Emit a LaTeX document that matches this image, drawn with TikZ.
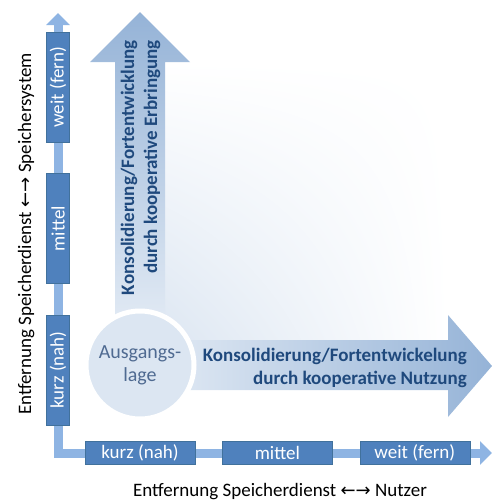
\documentclass[tikz,border=0pt]{standalone}
\usepackage{fontspec}
\usepackage{graphicx}
\setmainfont{Carlito}
\newfontfamily\arrowfont{DejaVu Sans}
\usetikzlibrary{arrows.meta,positioning,shadings}

\definecolor{boxblue}{HTML}{4F81BD}
\definecolor{boxline}{HTML}{41719C}
\definecolor{axisblue}{HTML}{8EB4E3}
\definecolor{arrowblue}{HTML}{95B3D7}
\definecolor{paleblue}{HTML}{DCE6F2}
\definecolor{textblue}{HTML}{1F497D}
\definecolor{circtext}{HTML}{4F6A91}

\newcommand{\lr}{{\arrowfont\fontsize{18}{18}\selectfont ←→}}

\tikzset{
	box/.style={draw=boxline, fill=boxblue, text=white, inner sep=0pt,
		font=\fontsize{19}{19}\selectfont},
	xbox/.style={box, minimum width=110pt, minimum height=23pt},
	ybox/.style={box, minimum width=23pt, minimum height=110pt},
	axisline/.style={draw=axisblue, line width=9pt},
	axistip/.tip={Triangle[width=23pt,length=12pt]},
	bigtext/.style={text=textblue, align=right, inner sep=0pt,
		font=\bfseries\fontsize{19}{23}\selectfont},
	label/.style={inner sep=0pt, font=\fontsize{19}{19}\selectfont}
}

\begin{document}
\begin{tikzpicture}[x=1pt,y=-1pt,node distance=27pt]
	\useasboundingbox (0,0) rectangle (492,501);
	
	% background fade between the arrows
	\shade[lower left=paleblue, upper left=white, lower right=white, upper right=white]
		(160,62) rectangle (448,345);
	
	% big arrows
	\shade[top color=arrowblue, bottom color=paleblue!80]
		(115,330) -- (115,62) -- (90,62) -- (140,12) -- (190,62) -- (165,62) -- (165,330) -- cycle;
	\shade[left color=paleblue!80, right color=arrowblue]
		(150,340) -- (448,340) -- (448,315) -- (492,366) -- (448,417) -- (448,390) -- (150,390) -- cycle;
	
	\node[bigtext, rotate=90, anchor=east] (up) at (140.5,40)
		{Konsolidierung/Fortentwicklung\\durch kooperative Erbringung};
	\node[bigtext, anchor=east] (right) at (467,368)
		{Konsolidierung/Fortentwickelung\\durch kooperative Nutzung};
	
	\node[circle, fill=paleblue, draw=white, line width=5pt, minimum size=108pt,
		text=circtext, align=center, font=\fontsize{20}{23}\selectfont] (start) at (140,365)
		{Ausgangs-\\lage};
	
	% axes
	\coordinate (ytip) at (58,13);
	\coordinate (xtip) at (492,453);
	\draw[axisline, {axistip}-{axistip}] (ytip) |- (xtip);
	
	\node[xbox] (x1) at (140,453) {kurz (nah)};
	\node[xbox] (x2) [right=of x1] {mittel};
	\node[xbox] (x3) [right=of x2] {weit (fern)};
	
	\node[ybox] (y1) at (58,370) {\rotatebox{90}{kurz (nah)}};
	\node[ybox] (y2) [above=31pt of y1] {\rotatebox{90}{mittel}};
	\node[ybox] (y3) [above=31pt of y2] {\rotatebox{90}{weit (fern)}};
	
	\node[label, anchor=base] (xlab) at (280,496) {Entfernung Speicherdienst \lr{} Nutzer};
	\node[label, rotate=90, anchor=base] (ylab) at (31,234) {Entfernung Speicherdienst \lr{} Speichersystem};
\end{tikzpicture}
\end{document}
